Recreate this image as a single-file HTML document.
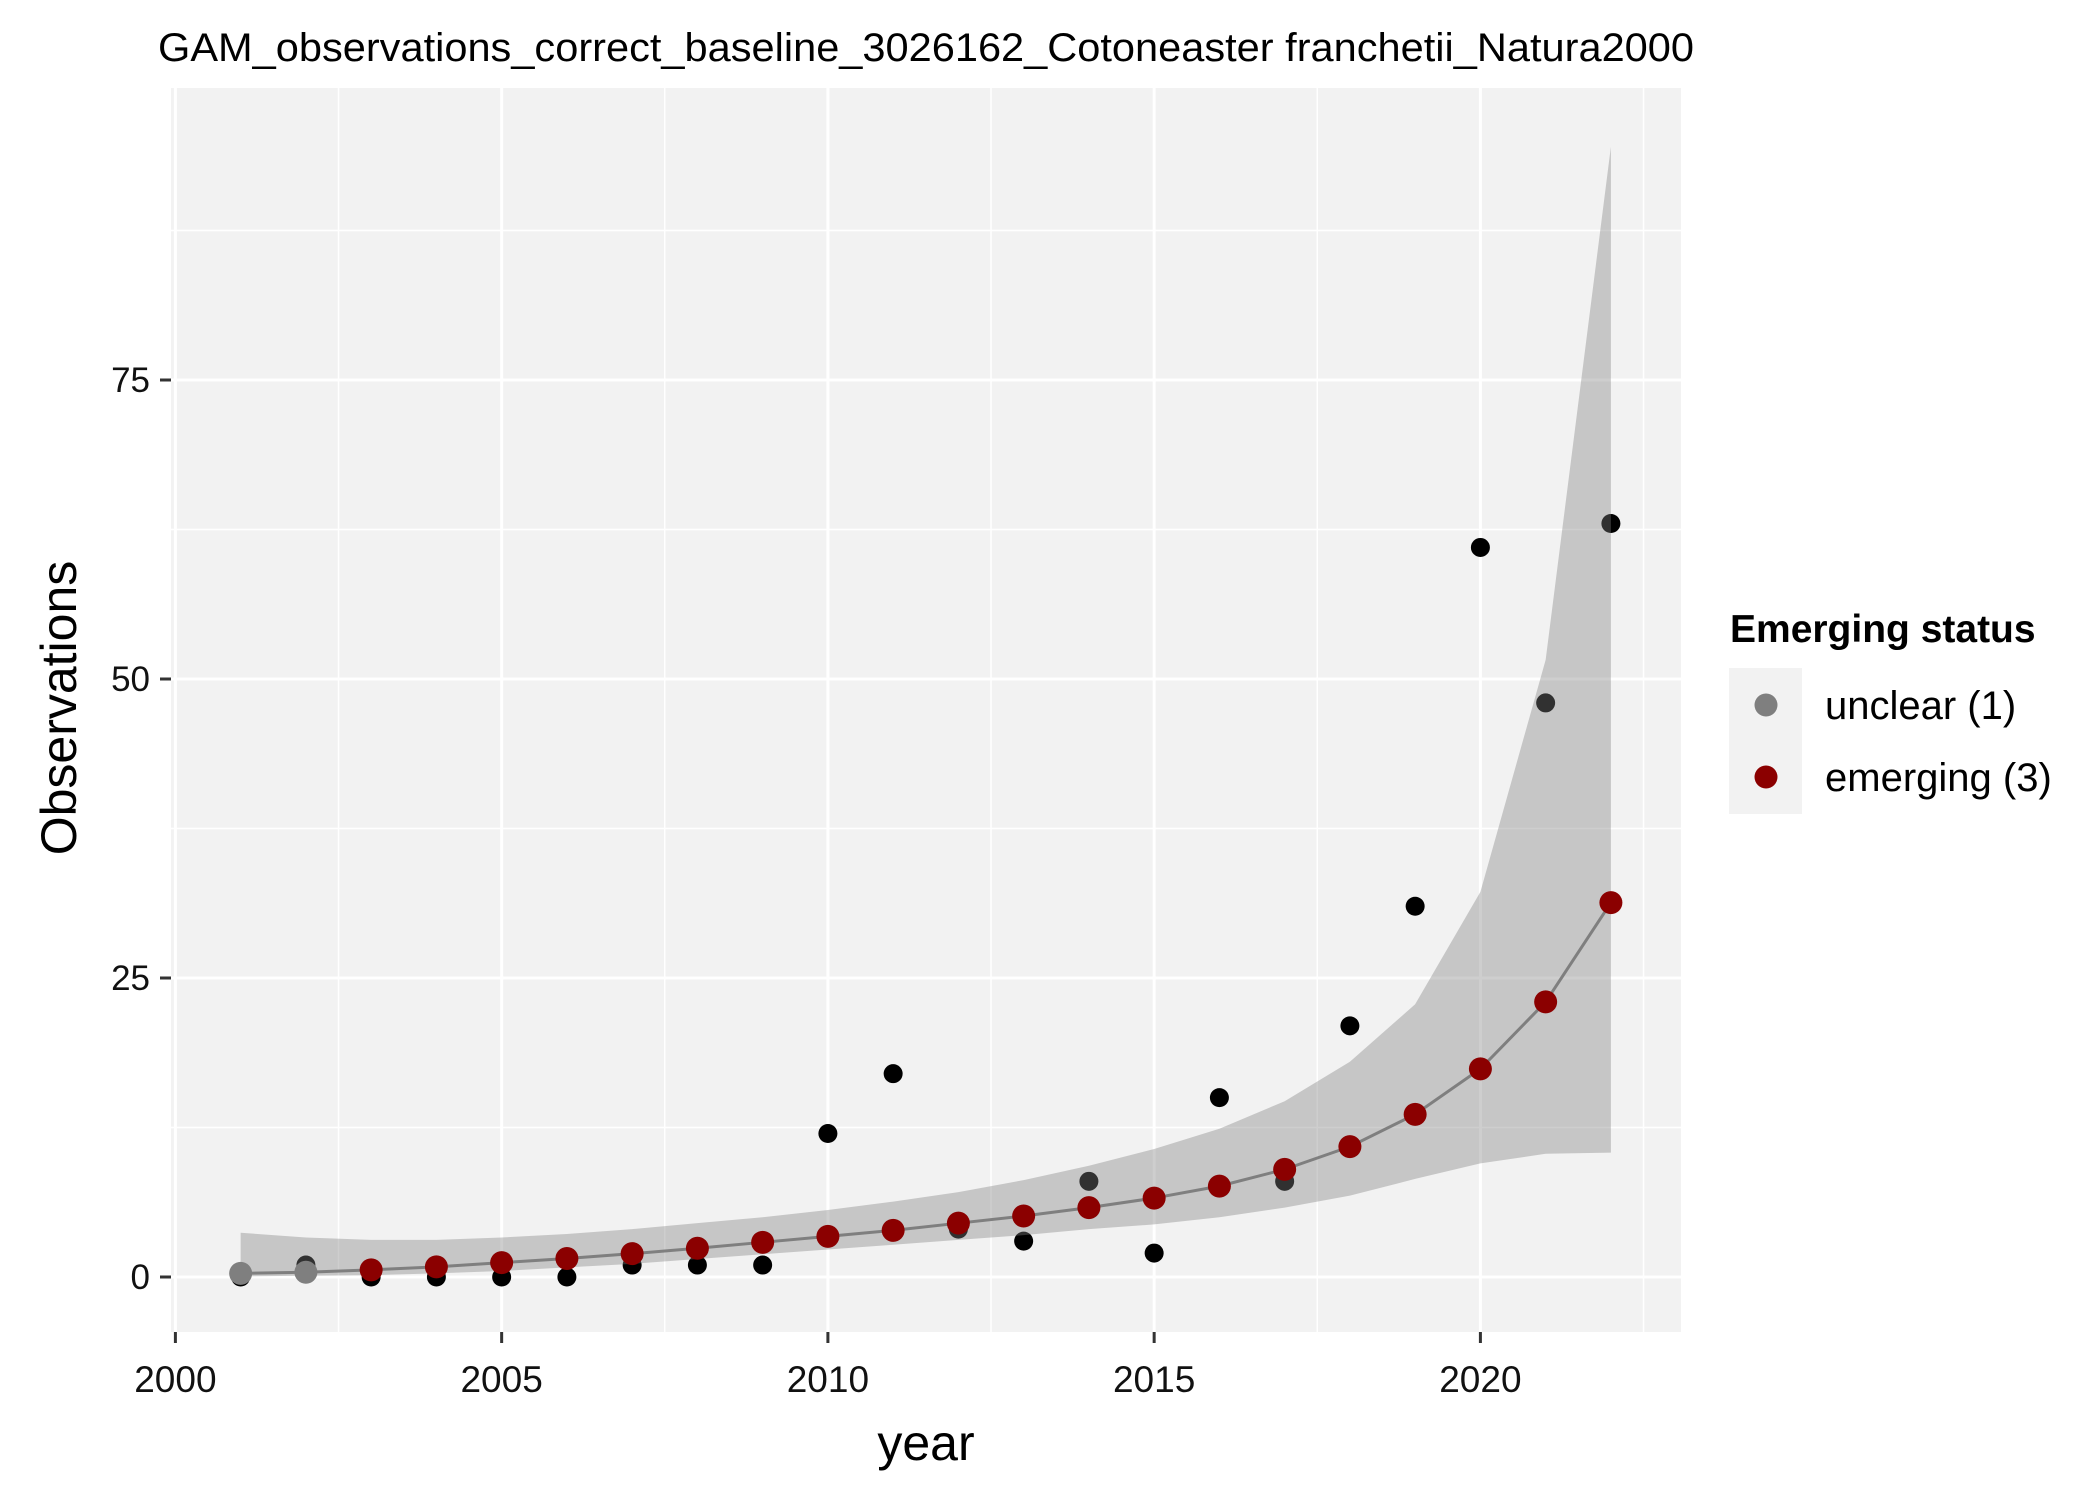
<!DOCTYPE html>
<html><head><meta charset="utf-8"><style>
html,body{margin:0;padding:0;background:#fff;}
svg{display:block;font-family:"Liberation Sans",Arial,sans-serif;}
</style></head><body>
<svg id="chart" width="2100" height="1499" viewBox="0 0 2100 1499" xmlns="http://www.w3.org/2000/svg">
<text x="926" y="61" font-size="40" text-anchor="middle" fill="#000" textLength="1536" lengthAdjust="spacingAndGlyphs">GAM_observations_correct_baseline_3026162_Cotoneaster franchetii_Natura2000</text>
<rect x="171" y="88" width="1510" height="1244" fill="#f2f2f2"/>
<g id="grid"></g>
<g id="obs"></g>
<g id="band"></g>
<g id="fit"></g>
<g id="axes"></g>
<text x="926" y="1460" font-size="50" text-anchor="middle" fill="#000">year</text>
<text transform="translate(76,708) rotate(-90)" font-size="50" text-anchor="middle" fill="#000">Observations</text>
<g>
<text x="1730" y="642" font-size="39" font-weight="bold" fill="#000">Emerging status</text>
<rect x="1729" y="668" width="73" height="146" fill="#f2f2f2"/>
<circle cx="1766" cy="705" r="11.5" fill="#7f7f7f"/>
<circle cx="1766" cy="777" r="11.5" fill="#8b0000"/>
<text x="1825" y="719" font-size="40" fill="#000">unclear (1)</text>
<text x="1825" y="791" font-size="40" fill="#000">emerging (3)</text>
</g>
</svg>
<script>
const years=[2001,2002,2003,2004,2005,2006,2007,2008,2009,2010,2011,2012,2013,2014,2015,2016,2017,2018,2019,2020,2021,2022];
const observed=[0,1,0,0,0,0,1,1,1,12,17,4,3,8,2,15,8,21,31,61,48,63];
const fitted=[0.3,0.4,0.6,0.85,1.2,1.55,1.95,2.4,2.9,3.4,3.9,4.5,5.1,5.8,6.6,7.6,9.0,10.9,13.6,17.4,23.0,31.3];
const upper=[3.7,3.3,3.1,3.1,3.3,3.6,4.0,4.5,5.0,5.6,6.3,7.1,8.1,9.3,10.7,12.4,14.7,18.0,22.8,32.2,51.6,94.5];
const lower=[0.05,0.1,0.15,0.3,0.5,0.8,1.1,1.5,1.9,2.3,2.7,3.1,3.5,4.0,4.4,5.0,5.8,6.8,8.2,9.5,10.3,10.4];
const status=['unclear','unclear','emerging','emerging','emerging','emerging','emerging','emerging','emerging','emerging','emerging','emerging','emerging','emerging','emerging','emerging','emerging','emerging','emerging','emerging','emerging','emerging'];
const xTicks=[2000,2005,2010,2015,2020];
const xMinor=[2002.5,2007.5,2012.5,2017.5,2022.5];
const yTicks=[0,25,50,75];
const yMinor=[12.5,37.5,62.5,87.5];
const xs=v=>175.4+(v-2000)*65.25;
const ys=v=>1277-v*11.96;
const NS='http://www.w3.org/2000/svg';
function mk(parent,tag,attrs){const e=document.createElementNS(NS,tag);for(const k in attrs)e.setAttribute(k,attrs[k]);document.getElementById(parent).appendChild(e);return e;}
yMinor.forEach(v=>{const e=mk('grid','line',{x1:171,x2:1681,y1:ys(v),y2:ys(v),stroke:'#fff','stroke-width':1.5});

});
xMinor.forEach(v=>{const e=mk('grid','line',{x1:xs(v),x2:xs(v),y1:88,y2:1332,stroke:'#fff','stroke-width':1.5});

});
yTicks.forEach(v=>{const e=mk('grid','line',{x1:171,x2:1681,y1:ys(v),y2:ys(v),stroke:'#fff','stroke-width':3});


const t=mk('axes','line',{x1:160,x2:171,y1:ys(v),y2:ys(v),stroke:'#333','stroke-width':3});


const l=mk('axes','text',{x:150,y:ys(v)+12,'font-size':35,'text-anchor':'end',fill:'#111'});l.textContent=v;

});
xTicks.forEach(v=>{const e=mk('grid','line',{x1:xs(v),x2:xs(v),y1:88,y2:1332,stroke:'#fff','stroke-width':3});


const t=mk('axes','line',{x1:xs(v),x2:xs(v),y1:1332,y2:1343,stroke:'#333','stroke-width':3});


const l=mk('axes','text',{x:xs(v),y:1392,'font-size':37,'text-anchor':'middle',fill:'#111'});l.textContent=v;

});
years.forEach((y,i)=>{const c=mk('obs','circle',{cx:xs(y),cy:ys(observed[i]),r:9.5,fill:'#000'});

});
let d='M'+years.map((y,i)=>xs(y)+','+ys(upper[i])).join('L');
for(let i=years.length-1;i>=0;i--)d+='L'+xs(years[i])+','+ys(lower[i]);d+='Z';
const b=mk('band','path',{d:d,fill:'#7f7f7f','fill-opacity':0.383});


const ln=mk('fit','polyline',{points:years.map((y,i)=>xs(y)+','+ys(fitted[i])).join(' '),fill:'none',stroke:'#7f7f7f','stroke-width':3});


years.forEach((y,i)=>{const c=mk('fit','circle',{cx:xs(y),cy:ys(fitted[i]),r:11.5,fill:status[i]==='unclear'?'#7f7f7f':'#8b0000'});

});
</script>
</body></html>
